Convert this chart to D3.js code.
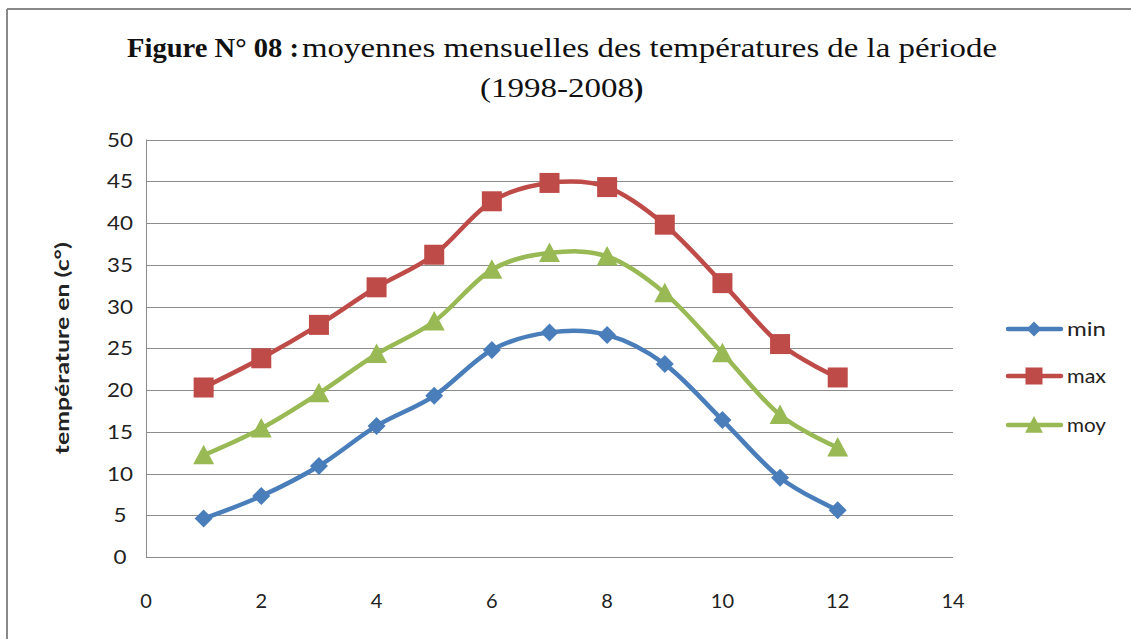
<!DOCTYPE html>
<html><head><meta charset="utf-8">
<script src="https://cdn.jsdelivr.net/npm/d3@7"></script>
<style>body{margin:0;background:#fff}svg{display:block}</style>
</head><body>
<script>
const months = [1,2,3,4,5,6,7,8,9,10,11,12];
const minVals = [4.6,7.3,10.9,15.7,19.3,24.8,26.9,26.6,23.1,16.4,9.5,5.6];
const maxVals = [20.3,23.8,27.8,32.3,36.2,42.6,44.8,44.3,39.8,32.8,25.5,21.5];
const moyVals = [12.2,15.4,19.6,24.3,28.2,34.4,36.4,36.0,31.6,24.4,17.0,13.1];
const seriesNames = ["min","max","moy"];
const seriesColors = ["#4a7ebb","#be4b48","#98b954"];
const xTicks = [0,2,4,6,8,10,12,14];
const yTicks = [0,5,10,15,20,25,30,35,40,45,50];

const W=1131,H=639;
const svg=d3.select("body").append("svg").attr("width",W).attr("height",H);
svg.append("rect").attr("width",W).attr("height",H).attr("fill","#fff");
// frame (top and left only visible)
svg.append("line").attr("x1",7).attr("x2",W).attr("y1",9).attr("y2",9).attr("stroke","#888").attr("stroke-width",2);
svg.append("line").attr("x1",7).attr("x2",7).attr("y1",9).attr("y2",H).attr("stroke","#888").attr("stroke-width",2);

const x=d3.scaleLinear().domain([0,14]).range([146,953]);
const y=d3.scaleLinear().domain([0,50]).range([557,139.5]);

// gridlines
svg.append("g").selectAll("line").data(yTicks).join("line")
 .attr("x1",x(0)).attr("x2",x(14)).attr("y1",d=>Math.round(y(d))+0.5).attr("y2",d=>Math.round(y(d))+0.5)
 .attr("stroke","#8c8c8c").attr("stroke-width",1);
// y axis line
svg.append("line").attr("x1",x(0)+0.5).attr("x2",x(0)+0.5).attr("y1",y(50)).attr("y2",y(0)).attr("stroke","#8c8c8c");

const tickFont="Lato, 'Open Sans', sans-serif";
svg.append("g").selectAll("text").data(yTicks).join("text")
 .attr("x",x(0)-26).attr("y",d=>y(d)).attr("dy","0.36em").attr("text-anchor","middle")
 .attr("font-family",tickFont).attr("font-size",20).attr("fill","#222")
 .attr("textLength",d=>String(d).length*13).attr("lengthAdjust","spacingAndGlyphs").text(d=>d);
svg.append("g").selectAll("text").data(xTicks).join("text")
 .attr("x",d=>x(d)).attr("y",608).attr("text-anchor","middle")
 .attr("font-family",tickFont).attr("font-size",20).attr("fill","#222").text(d=>d);

// y axis title
svg.append("text").attr("transform","translate(69,"+((y(0)+y(50))/2)+") rotate(-90)")
 .attr("text-anchor","middle").attr("font-family",tickFont).attr("font-weight","bold")
 .attr("font-size",19.5).attr("fill","#222")
 .attr("textLength",212).attr("lengthAdjust","spacingAndGlyphs").text("température en (c°)");

// title
const serif="'Liberation Serif','Times New Roman',serif";
svg.append("text").attr("x",127).attr("y",57).attr("font-family",serif).attr("font-size",28)
 .attr("font-weight","bold").attr("fill","#111").attr("textLength",172).attr("lengthAdjust","spacingAndGlyphs")
 .text("Figure N° 08 :");
svg.append("text").attr("x",302).attr("y",57).attr("font-family",serif).attr("font-size",28)
 .attr("fill","#111").attr("textLength",695).attr("lengthAdjust","spacingAndGlyphs")
 .text("moyennes mensuelles des températures de la période");
svg.append("text").attr("x",480).attr("y",97).attr("font-family",serif).attr("font-size",28)
 .attr("fill","#111").attr("textLength",154).attr("lengthAdjust","spacingAndGlyphs")
 .text("(1998-2008");
svg.append("text").attr("x",634).attr("y",97).attr("font-family",serif).attr("font-size",28)
 .attr("font-weight","bold").attr("fill","#111").text(")");

const data=[minVals,maxVals,moyVals];
const line=d3.line().x((d,i)=>x(months[i])).y(d=>y(d)).curve(d3.curveCatmullRom.alpha(0));

function marker(g,k,cx,cy,s){
  const c=seriesColors[k];
  if(k===0){
    g.append("path").attr("d",`M${cx},${cy-s}L${cx+s},${cy}L${cx},${cy+s}L${cx-s},${cy}Z`).attr("fill",c);
  } else if(k===1){
    g.append("rect").attr("x",cx-s).attr("y",cy-s).attr("width",2*s).attr("height",2*s).attr("fill",c);
  } else {
    g.append("path").attr("d",`M${cx},${cy-s*1.05}L${cx+s*1.05},${cy+s*0.9}L${cx-s*1.05},${cy+s*0.9}Z`).attr("fill",c);
  }
}
const sizes=[9,10,10];
data.forEach((vals,k)=>{
  const g=svg.append("g");
  g.append("path").attr("d",line(vals)).attr("fill","none").attr("stroke",seriesColors[k])
    .attr("stroke-width",4.5).attr("stroke-linecap","round").attr("stroke-linejoin","round");
  vals.forEach((v,i)=>marker(g,k,x(months[i]),y(v),sizes[k]));
});

// legend
const legY=[329,376,425];
seriesNames.forEach((n,k)=>{
  const g=svg.append("g");
  g.append("line").attr("x1",1008).attr("x2",1061).attr("y1",legY[k]).attr("y2",legY[k])
   .attr("stroke",seriesColors[k]).attr("stroke-width",4.5).attr("stroke-linecap","round");
  marker(g,k,1034,legY[k],k===0?7.5:8.5);
  g.append("text").attr("x",1067).attr("y",legY[k]).attr("dy","0.36em")
   .attr("font-family",tickFont).attr("font-size",20).attr("fill","#222")
   .attr("textLength",n.length*13).attr("lengthAdjust","spacingAndGlyphs").text(n);
});
</script>
</body></html>
